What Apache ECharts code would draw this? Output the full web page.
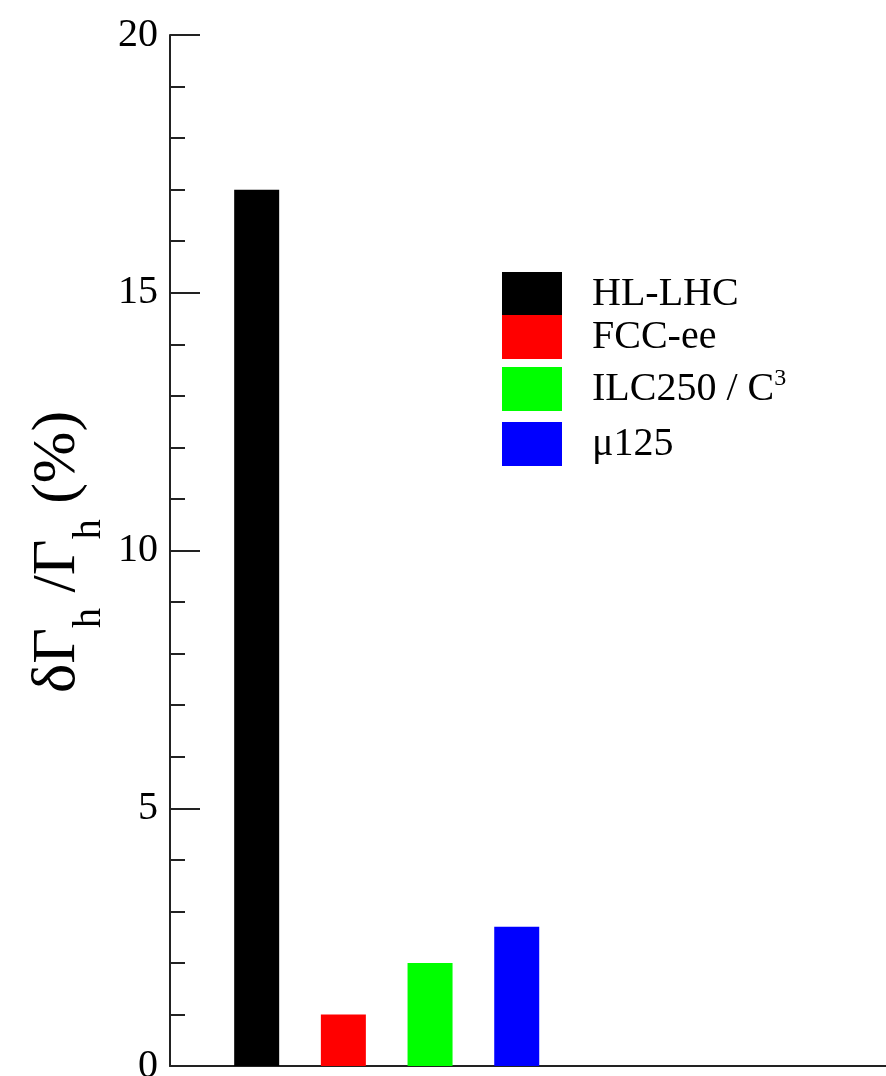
<!DOCTYPE html>
<html>
<head>
<meta charset="utf-8">
<script src="https://cdn.jsdelivr.net/npm/echarts@6/dist/echarts.min.js"></script>
<style>
html,body{margin:0;padding:0;background:#fff;}
#chart{width:886px;height:1076px;}
</style>
</head>
<body>
<div id="chart"></div>
<script>
// ---- data ----
const seriesNames = ['HL-LHC', 'FCC-ee', 'ILC250 / C3', 'μ125'];
const xPositions = [1, 2, 3, 4];
const widthValues = [17, 1, 2, 2.7];
const barColors = ['#000000', '#ff0000', '#00ff00', '#0000ff'];
const yTicks = [0, 5, 10, 15, 20];
// y-axis title pieces: [text, isSubscript]
const yTitleParts = [['δΓ', false], ['h', true], [' /Γ', false], ['h', true], [' (%)', false]];

const serif = '"Liberation Serif", "DejaVu Serif", serif';
const chart = echarts.init(document.getElementById('chart'), null, {renderer: 'canvas'});

const legendTops = [272, 315, 367, 422];

// build rotated y-axis title from measured pieces
const mainFs = 62, subFs = 40, subDrop = 24;
const mctx = document.createElement('canvas').getContext('2d');
let off = 0;
const titleChildren = yTitleParts.map(([t, sub]) => {
  const fs = sub ? subFs : mainFs;
  mctx.font = fs + 'px ' + serif;
  const w = mctx.measureText(t).width;
  const el = {
    type: 'text',
    x: off,
    y: (sub ? subDrop : 0) - 0.34 * fs,
    style: {text: t, fontFamily: serif, fontSize: fs, fill: '#000', align: 'left', verticalAlign: 'middle'}
  };
  off += w;
  return el;
});

const option = {
  animation: false,
  backgroundColor: '#fff',
  grid: {left: 170, top: 35, bottom: 10, right: 0, containLabel: false, outerBoundsMode: 'none'},
  xAxis: {
    type: 'value', min: 0, max: 8.26,
    axisLine: {show: true, onZero: false, lineStyle: {color: '#222', width: 2}},
    axisTick: {show: false}, axisLabel: {show: false}, splitLine: {show: false}
  },
  yAxis: {
    type: 'value', min: yTicks[0], max: yTicks[yTicks.length - 1], interval: 5,
    axisLine: {show: true, lineStyle: {color: '#222', width: 2}},
    axisTick: {show: true, inside: true, length: 30, lineStyle: {color: '#222', width: 2}},
    minorTick: {show: true, splitNumber: 5, length: 15, lineStyle: {color: '#222', width: 2}},
    axisLabel: {fontFamily: serif, fontSize: 40, color: '#000', margin: 12},
    splitLine: {show: false}
  },
  legend: seriesNames.map((n, i) => ({
    data: [{name: n, icon: 'rect'}],
    orient: 'vertical',
    left: 502, top: legendTops[i],
    itemWidth: 60, itemHeight: 44,
    selectedMode: false,
    padding: 0,
    formatter: name => name === 'ILC250 / C3' ? '{m|ILC250 / C}{s|3}' : '{m|' + name + '}',
    textStyle: {
      fontFamily: serif, fontSize: 40, color: '#000', padding: [0, 0, 0, 25],
      rich: {
        m: {fontFamily: serif, fontSize: 40, color: '#000', lineHeight: 44},
        s: {fontFamily: serif, fontSize: 24, color: '#000', verticalAlign: 'top', lineHeight: 24}
      }
    }
  })),
  series: seriesNames.map((n, i) => ({
    name: n,
    type: 'bar',
    barWidth: 45,
    barGap: '-100%',
    itemStyle: {color: barColors[i]},
    data: [[xPositions[i], widthValues[i]]]
  })),
  graphic: [{
    type: 'group',
    x: 79, y: 693,
    rotation: Math.PI / 2,
    children: titleChildren
  }]
};
chart.setOption(option);
</script>
</body>
</html>
